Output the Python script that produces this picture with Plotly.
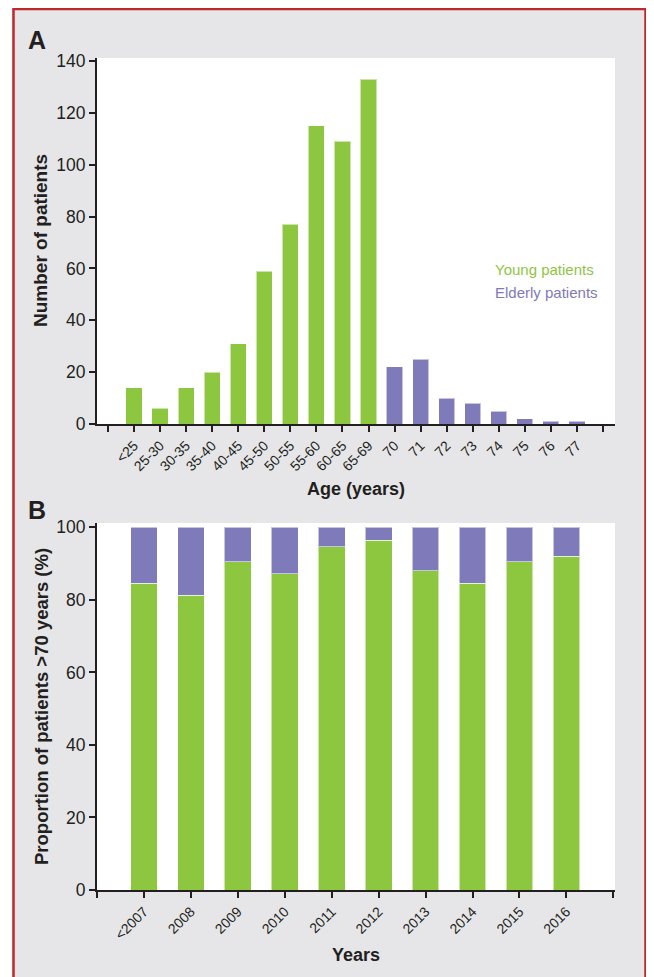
import plotly.graph_objects as go

# ---------------- data ----------------
age_groups = ["<25", "25-30", "30-35", "35-40", "40-45", "45-50", "50-55", "55-60", "60-65", "65-69",
              "70", "71", "72", "73", "74", "75", "76", "77"]
young_counts = [14, 6, 14, 20, 31, 59, 77, 115, 109, 133]
elderly_counts = [22, 25, 10, 8, 5, 2, 1, 1]

years = ["<2007", "2008", "2009", "2010", "2011", "2012", "2013", "2014", "2015", "2016"]
young_pct = [84.6, 81.3, 90.5, 87.2, 94.7, 96.5, 88.0, 84.6, 90.5, 92.0]
elderly_pct = [round(100 - v, 1) for v in young_pct]

# ---------------- style ----------------
OFF = 8                      # page body margin of the browser
W, H = 654 - OFF, 977 - OFF  # figure size so the page is filled exactly
GREEN = "#8DC63F"
PURPLE = "#7F7AB9"
DARK = "#231f20"
BG = "#e6e6e8"
RED = "#c1272d"
FONT = "Liberation Sans, Arial, sans-serif"


def px(x):
    """page x (pixels) -> paper coordinate"""
    return (x - OFF) / W


def py(y):
    """page y (pixels) -> paper coordinate"""
    return 1 - (y - OFF) / H


fig = go.Figure()

# Panel A positions (numeric, empty slots at both ends)
n_young = len(young_counts)
xa_young = list(range(1, n_young + 1))
xa_eld = list(range(n_young + 1, len(age_groups) + 1))
edge = dict(color="rgba(255,255,255,0.55)", width=1)

fig.add_trace(go.Bar(x=xa_young, y=young_counts, width=0.62, marker=dict(color=GREEN, line=edge),
                     name="Young patients", xaxis="x", yaxis="y", showlegend=False))
fig.add_trace(go.Bar(x=xa_eld, y=elderly_counts, width=0.62, marker=dict(color=PURPLE, line=edge),
                     name="Elderly patients", xaxis="x", yaxis="y", showlegend=False))

# Panel B
xb = list(range(len(years)))
fig.add_trace(go.Bar(x=xb, y=young_pct, width=0.57, marker=dict(color=GREEN, line=edge),
                     name="Young patients", xaxis="x2", yaxis="y2", showlegend=False))
fig.add_trace(go.Bar(x=xb, y=elderly_pct, width=0.57, marker=dict(color=PURPLE, line=edge),
                     name="Elderly patients", xaxis="x2", yaxis="y2", showlegend=False))

axis_common = dict(showgrid=False, zeroline=False, showline=True, linecolor=DARK, linewidth=2,
                   ticks="outside", ticklen=6, tickwidth=2, tickcolor=DARK, automargin=False)

xdom = [px(97), px(615)]

fig.update_layout(
    width=W, height=H,
    margin=dict(l=0, r=0, t=0, b=0),
    paper_bgcolor=BG, plot_bgcolor="white",
    barmode="stack",
    font=dict(family=FONT, color=DARK),
    xaxis=dict(domain=xdom, anchor="y", range=[-0.42, 19.46],
               tickmode="array", tickvals=list(range(0, len(age_groups) + 2)),
               ticktext=[""] + age_groups + [""], tickangle=-45,
               tickfont=dict(size=14, family=FONT, color=DARK), **axis_common),
    yaxis=dict(domain=[py(424), py(58)], anchor="x", range=[0, 141.2],
               tickmode="array", tickvals=list(range(0, 141, 20)),
               tickfont=dict(size=17.5, family=FONT, color=DARK), **axis_common),
    xaxis2=dict(domain=xdom, anchor="y2", range=[-1, 10.035],
                tickmode="array", tickvals=list(range(-1, len(years) + 1)),
                ticktext=[""] + years + [""], tickangle=-45,
                tickfont=dict(size=14, family=FONT, color=DARK), **axis_common),
    yaxis2=dict(domain=[py(890), py(523)], anchor="x2", range=[0, 101.2],
                tickmode="array", tickvals=list(range(0, 101, 20)),
                tickfont=dict(size=17.5, family=FONT, color=DARK), **axis_common),
)

# frame: red border, white outside
shapes = [
    dict(type="rect", xref="paper", yref="paper", x0=0, x1=px(12), y0=0, y1=1,
         fillcolor="white", line=dict(width=0), layer="above"),
    dict(type="rect", xref="paper", yref="paper", x0=px(647), x1=1, y0=0, y1=1,
         fillcolor="white", line=dict(width=0), layer="above"),
    dict(type="rect", xref="paper", yref="paper", x0=px(13.5), x1=px(645.5), y0=py(995), y1=py(9),
         fillcolor="rgba(0,0,0,0)", line=dict(color=RED, width=2.5), layer="above"),
]
fig.update_layout(shapes=shapes)

ann = []


def text(x, y, s, size, bold=False, color=DARK, angle=0, xanchor="center"):
    ann.append(dict(xref="paper", yref="paper", x=px(x), y=py(y), text=f"<b>{s}</b>" if bold else s,
                    showarrow=False, font=dict(family=FONT, size=size, color=color), textangle=angle,
                    xanchor=xanchor, yanchor="middle"))


text(37, 40, "A", 25, bold=True)
text(37, 510, "B", 25, bold=True)
text(41, 241, "Number of patients", 19, bold=True, angle=-90)
text(356, 489, "Age (years)", 18, bold=True)
text(41, 707, "Proportion of patients &gt;70 years (%)", 18.5, bold=True, angle=-90)
text(356, 955, "Years", 18, bold=True)
text(493, 270, "Young patients", 15, color=GREEN, xanchor="left")
text(493, 292, "Elderly patients", 15, color=PURPLE, xanchor="left")
fig.update_layout(annotations=ann)

fig.write_html("out.html")
